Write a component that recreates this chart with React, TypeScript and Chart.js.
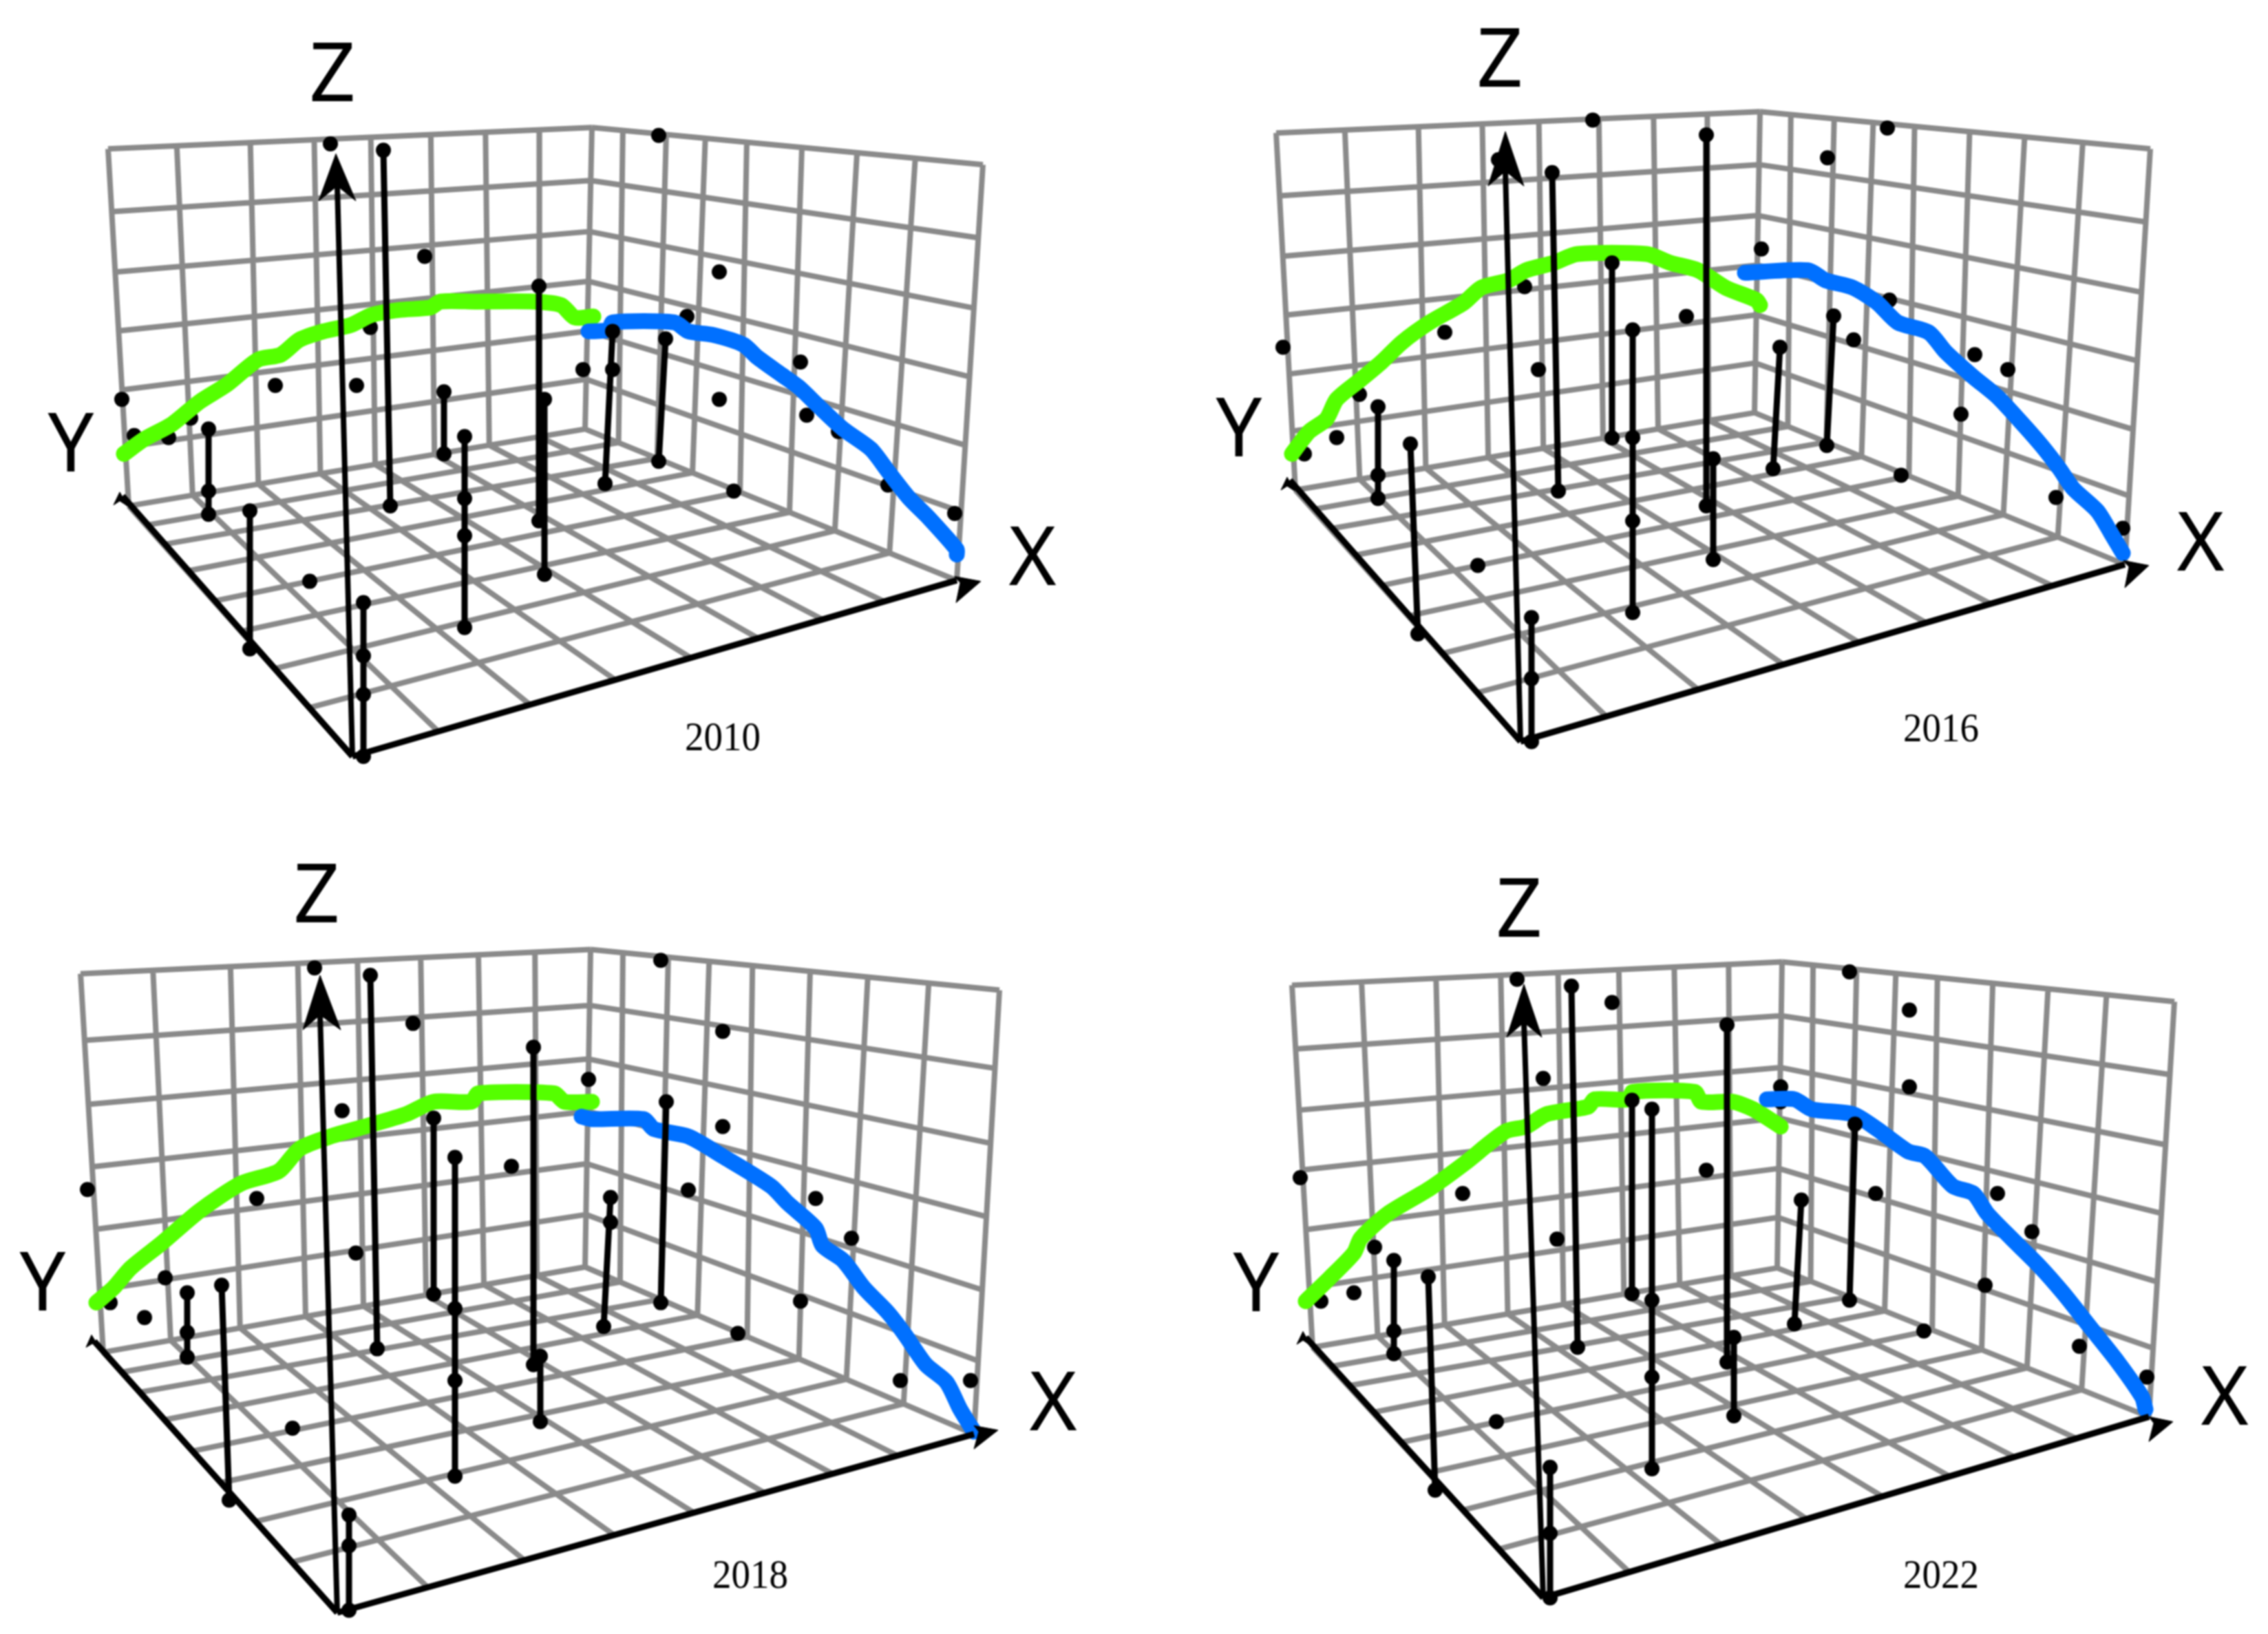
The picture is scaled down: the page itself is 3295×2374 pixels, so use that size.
import React, { useEffect, useRef } from "react";
import { Chart, registerables } from "chart.js";

Chart.register(...registerables);

type Pt = number[];

// Grid line positions as fractions along each wall / floor edge
const leftWallTop = [0, 0.142, 0.294, 0.426, 0.543, 0.667, 0.78, 0.891, 1];
const leftWallBottom = [0, 0.14, 0.284, 0.42, 0.54, 0.67, 0.79, 0.9, 1];
const rightWallTop = [0, 0.079, 0.19, 0.29, 0.396, 0.537, 0.678, 0.827, 1];
const rightWallBottom = [0, 0.09, 0.194, 0.289, 0.417, 0.55, 0.672, 0.819, 1];
const wallRows = [0, 0.176, 0.345, 0.51, 0.675, 0.835, 1];
const floorFrontX = [0, 0.142, 0.294, 0.435, 0.56, 0.671, 0.778, 0.88, 1];
const floorFrontY = [0, 0.194, 0.35, 0.499, 0.62, 0.74, 0.846, 0.923, 1];

// ---- 2010 ----
const box2010 = { lt: [107, 300], a: [810, 257], rt: [1378, 332], lb: [137, 1020], b: [800, 865], rb: [1340, 1170], f: [462, 1525] };
const zTip2010 = [[438, 310], [413, 405], [440, 375], [467, 405]];
const xTip2010 = [[1375, 1172], [1337, 1162], [1345, 1175], [1339, 1215]];
const yTip2010 = [[124, 992], [115, 1018], [124, 1010], [135, 1020]];
const yEnd2010 = [128, 1000];
const stems2010 = [[253, 865, 253, 1037], [313, 1030, 313, 1308], [478, 1215, 478, 1525], [507, 303, 517, 1020], [595, 790, 595, 915], [625, 880, 625, 1265], [733, 577, 733, 1050], [741, 805, 741, 1158], [840, 668, 829, 975], [917, 683, 907, 930]];
const dots2010 = [[253, 990], [478, 1322], [478, 1400], [625, 1005], [625, 1080], [840, 745], [430, 290], [907, 273], [567, 517], [995, 548], [948, 638], [1113, 730], [488, 660], [350, 777], [468, 777], [195, 882], [127, 805], [145, 878], [227, 843], [797, 745], [995, 805], [1122, 837], [1168, 870], [1016, 990], [1240, 978], [1337, 1035], [400, 1172]];
const green2010 = [[130, 915], [160, 885], [200, 855], [240, 810], [280, 775], [325, 725], [358, 715], [385, 685], [420, 668], [460, 655], [490, 635], [530, 625], [575, 620], [590, 608], [640, 608], [725, 608], [765, 615], [785, 640], [812, 638]];
const blue2010 = [[805, 668], [835, 665], [840, 650], [930, 650], [950, 668], [985, 675], [1030, 695], [1050, 720], [1085, 755], [1110, 780], [1140, 820], [1175, 865], [1215, 905], [1240, 950], [1270, 1003], [1300, 1045], [1340, 1108], [1340, 1118]];

// ---- 2016 ----
const box2016 = { lt: [127, 268], a: [830, 225], rt: [1397, 300], lb: [155, 988], b: [822, 832], rb: [1360, 1138], f: [482, 1495] };
const zTip2016 = [[460, 265], [435, 375], [460, 345], [487, 375]];
const xTip2016 = [[1395, 1140], [1358, 1130], [1366, 1143], [1360, 1185]];
const yTip2016 = [[143, 962], [134, 988], [143, 980], [154, 990]];
const yEnd2016 = [147, 968];
const stems2016 = [[275, 820, 275, 1005], [322, 895, 333, 1278], [498, 1245, 498, 1495], [528, 348, 537, 990], [615, 530, 615, 883], [645, 665, 645, 1235], [752, 272, 752, 1020], [762, 925, 762, 1128], [859, 700, 849, 945], [937, 637, 927, 898]];
const dots2016 = [[275, 958], [498, 1368], [645, 882], [645, 1050], [587, 242], [1015, 258], [928, 318], [450, 322], [832, 502], [488, 578], [372, 670], [723, 638], [137, 700], [508, 745], [248, 795], [215, 882], [168, 915], [1018, 605], [966, 685], [1142, 715], [1190, 745], [1122, 835], [1035, 958], [1260, 1003], [1357, 1065], [420, 1140]];
const green2016 = [[150, 915], [175, 870], [200, 845], [215, 805], [250, 765], [280, 730], [310, 690], [350, 650], [400, 610], [425, 580], [465, 565], [490, 545], [530, 530], [565, 512], [665, 512], [700, 530], [740, 545], [780, 580], [825, 605], [830, 615]];
const blue2016 = [[808, 550], [900, 545], [925, 565], [965, 580], [1000, 610], [1030, 650], [1075, 670], [1100, 710], [1140, 760], [1175, 800], [1215, 860], [1240, 900], [1265, 945], [1285, 985], [1320, 1030], [1340, 1075], [1357, 1115]];

// ---- 2018 ----
const box2018 = { lt: [117, 237], a: [858, 188], rt: [1452, 270], lb: [150, 1000], b: [850, 828], rb: [1415, 1165], f: [490, 1525] };
const zTip2018 = [[465, 240], [440, 350], [465, 320], [495, 350]];
const xTip2018 = [[1450, 1157], [1415, 1148], [1422, 1160], [1415, 1195]];
const yTip2018 = [[133, 965], [125, 990], [135, 982], [145, 992]];
const yEnd2018 = [137, 978];
const stems2018 = [[272, 880, 272, 1010], [322, 865, 333, 1298], [507, 1328, 507, 1520], [538, 240, 548, 993], [630, 528, 630, 883], [661, 607, 661, 1250], [775, 385, 775, 1025], [785, 1008, 785, 1140], [887, 688, 877, 948], [968, 495, 960, 900]];
const dots2018 = [[272, 960], [507, 1390], [661, 912], [661, 1057], [887, 738], [457, 225], [960, 210], [600, 337], [1050, 353], [855, 450], [497, 513], [1050, 545], [743, 625], [127, 672], [373, 690], [1000, 673], [1185, 690], [1237, 770], [517, 800], [240, 850], [1163, 897], [160, 900], [210, 930], [1072, 962], [1308, 1057], [1410, 1057], [425, 1153]];
const green2018 = [[140, 900], [165, 870], [190, 830], [235, 780], [290, 715], [350, 660], [405, 635], [435, 590], [480, 565], [530, 545], [590, 520], [630, 495], [685, 495], [695, 478], [805, 478], [820, 495], [860, 495]];
const blue2018 = [[845, 525], [860, 530], [935, 530], [950, 550], [1000, 565], [1050, 605], [1120, 665], [1145, 700], [1185, 750], [1195, 785], [1225, 815], [1255, 870], [1290, 920], [1315, 965], [1345, 1025], [1375, 1060], [1395, 1115], [1415, 1160]];

// ---- 2022 ----
const box2022 = { lt: [150, 260], a: [862, 213], rt: [1432, 293], lb: [180, 990], b: [855, 830], rb: [1395, 1130], f: [515, 1495] };
const zTip2022 = [[487, 258], [462, 365], [487, 335], [513, 365]];
const xTip2022 = [[1430, 1140], [1395, 1130], [1402, 1143], [1395, 1180]];
const yTip2022 = [[166, 958], [157, 984], [166, 976], [177, 986]];
const yEnd2022 = [170, 970];
const stems2022 = [[298, 815, 298, 1003], [348, 848, 358, 1278], [525, 1232, 525, 1495], [556, 262, 565, 990], [644, 492, 644, 882], [673, 510, 673, 1235], [782, 340, 782, 1020], [792, 970, 792, 1128], [890, 693, 880, 943], [968, 540, 960, 895]];
const dots2022 = [[298, 957], [525, 1365], [673, 895], [673, 1050], [477, 248], [960, 233], [615, 295], [1047, 310], [515, 448], [1047, 465], [860, 465], [860, 495], [752, 633], [162, 648], [398, 680], [998, 680], [1175, 680], [1225, 757], [535, 772], [270, 788], [1157, 865], [240, 880], [192, 897], [1068, 957], [1294, 988], [1392, 1050], [447, 1140]];
const green2022 = [[170, 897], [205, 850], [240, 800], [250, 770], [290, 720], [350, 670], [400, 620], [460, 555], [490, 545], [520, 520], [580, 505], [590, 490], [640, 490], [645, 475], [735, 475], [745, 495], [790, 495], [820, 510], [860, 545]];
const blue2022 = [[840, 490], [880, 490], [905, 510], [965, 520], [1000, 550], [1045, 595], [1070, 605], [1110, 665], [1140, 680], [1160, 720], [1195, 770], [1235, 825], [1270, 880], [1310, 950], [1350, 1020], [1385, 1090], [1390, 1115]];

const panels = [
  { year: "2010", left: 50, top: 0, box: box2010, zTip: zTip2010, xTip: xTip2010, yTip: yTip2010, yEnd: yEnd2010, stems: stems2010, dots: dots2010, green: green2010, blue: blue2010, labels: { Z: [433, 158], Y: [53, 904], X: [1450, 1133], year: [1000, 1490] } },
  { year: "2016", left: 1727, top: 0, box: box2016, zTip: zTip2016, xTip: xTip2016, yTip: yTip2016, yEnd: yEnd2016, stems: stems2016, dots: dots2016, green: green2016, blue: blue2016, labels: { Z: [452, 128], Y: [73, 874], X: [1470, 1103], year: [1093, 1473] } },
  { year: "2018", left: 0, top: 1244, box: box2018, zTip: zTip2018, xTip: xTip2018, yTip: yTip2018, yEnd: yEnd2018, stems: stems2018, dots: dots2018, green: green2018, blue: blue2018, labels: { Z: [460, 86], Y: [62, 869], X: [1530, 1111], year: [1090, 1453] } },
  { year: "2022", left: 1727, top: 1244, box: box2022, zTip: zTip2022, xTip: xTip2022, yTip: yTip2022, yEnd: yEnd2022, stems: stems2022, dots: dots2022, green: green2022, blue: blue2022, labels: { Z: [480, 116], Y: [98, 870], X: [1505, 1100], year: [1093, 1453] } },
];

const SCALE_W = 1568;
const SCALE_H = 1568; // crops are read in a square space, 1568 units tall
const CANVAS_W = 1568;
const CANVAS_H = 1130;

const BREAK = { x: NaN, y: NaN };
const xy = (p: Pt) => ({ x: p[0], y: p[1] });
const mix = (p: Pt, q: Pt, t: number) => [p[0] + (q[0] - p[0]) * t, p[1] + (q[1] - p[1]) * t];

function linesBetween(a0: Pt, a1: Pt, fa: number[], b0: Pt, b1: Pt, fb: number[]) {
  const out: any[] = [];
  fa.forEach((f, i) => {
    out.push(xy(mix(a0, a1, f)), xy(mix(b0, b1, fb[i])), BREAK);
  });
  return out;
}

const labelPlugin = {
  id: "panelLabels",
  afterDraw(chart: any, _a: any, opts: any) {
    const { ctx, scales } = chart;
    ctx.save();
    ctx.textAlign = "center";
    ctx.textBaseline = "middle";
    ctx.fillStyle = "#000";
    for (const l of opts.items) {
      ctx.font = l.font;
      ctx.fillText(l.text, scales.x.getPixelForValue(l.at[0]), scales.y.getPixelForValue(l.at[1]), l.maxWidth);
    }
    ctx.restore();
  },
};

function Panel({ p }: { p: (typeof panels)[number] }) {
  const ref = useRef<HTMLCanvasElement>(null);
  useEffect(() => {
    const { lt, a, rt, lb, b, rb, f } = p.box;
    const grid = [
      ...linesBetween(lt, a, leftWallTop, lb, b, leftWallBottom),
      ...linesBetween(a, rt, rightWallTop, b, rb, rightWallBottom),
      ...linesBetween(lt, lb, wallRows, a, b, wallRows),
      ...linesBetween(a, b, wallRows, rt, rb, wallRows),
      ...linesBetween(f, rb, floorFrontX, lb, b, leftWallBottom),
      ...linesBetween(f, lb, floorFrontY, rb, b, rightWallBottom.map((v) => 1 - v).reverse()),
    ];
    const stemLines: any[] = [];
    const stemDots: any[] = [];
    p.stems.forEach((s) => {
      stemLines.push({ x: s[0], y: s[1] }, { x: s[2], y: s[3] }, BREAK);
      stemDots.push({ x: s[0], y: s[1] }, { x: s[2], y: s[3] });
    });
    const line = (data: any[], color: string, width: number, extra: any = {}) => ({
      data,
      showLine: true,
      borderColor: color,
      borderWidth: width,
      pointRadius: 0,
      tension: 0,
      spanGaps: false,
      ...extra,
    });
    const marker = (data: any[]) => ({
      data,
      showLine: false,
      pointRadius: 11,
      pointBackgroundColor: "#000",
      pointBorderWidth: 0,
    });
    const curve = { borderCapStyle: "round", borderJoinStyle: "round", tension: 0.25 };
    const head = (tip: number[][]) => line([...tip.map(xy), xy(tip[0])], "#000", 1, { fill: "shape", backgroundColor: "#000" });
    const painted: any[] = [
      line(grid, "#8a8a8a", 8),
      marker(p.dots.map(xy)),
      line(p.green.map(xy), "#55ff00", 23, curve),
      line(p.blue.map(xy), "#0070ff", 23, curve),
      line([xy(p.box.f), xy(p.yEnd), BREAK, xy(p.box.f), xy(p.box.rb)], "#000", 9),
      line([xy(p.box.f), xy(p.zTip[2])], "#000", 8),
      head(p.zTip),
      head(p.xTip),
      head(p.yTip),
      line(stemLines, "#000", 9),
      marker(stemDots),
    ];
    painted.forEach((d, i) => (d.order = painted.length - i));
    const axisFont = '118px "Noto Sans"';
    const chart = new Chart(ref.current as HTMLCanvasElement, {
      type: "scatter",
      data: { datasets: painted },
      options: {
        animation: false,
        responsive: false,
        layout: { padding: 0, autoPadding: false },
        scales: {
          x: { type: "linear", min: 0, max: SCALE_W, display: false },
          y: { type: "linear", min: 0, max: SCALE_H, reverse: true, display: false },
        },
        plugins: {
          legend: { display: false },
          tooltip: { enabled: false },
          panelLabels: {
            items: [
              { text: "Z", at: p.labels.Z, font: axisFont },
              { text: "Y", at: p.labels.Y, font: axisFont },
              { text: "X", at: p.labels.X, font: axisFont },
              { text: p.year, at: p.labels.year, font: '60px "Liberation Serif"', maxWidth: 110 },
            ],
          },
        },
      } as any,
      plugins: [labelPlugin],
    });
    return () => chart.destroy();
  }, [p]);
  return (
    <canvas
      ref={ref}
      width={CANVAS_W}
      height={CANVAS_H}
      style={{ position: "absolute", left: p.left, top: p.top, width: CANVAS_W, height: CANVAS_H, display: "block", filter: "blur(1px)" }}
    />
  );
}

export default function App() {
  return (
    <div style={{ position: "absolute", left: 0, top: 0, width: 3295, height: 2374, background: "#fff", overflow: "hidden" }}>
      {panels.map((p) => (
        <Panel key={p.year} p={p} />
      ))}
    </div>
  );
}
